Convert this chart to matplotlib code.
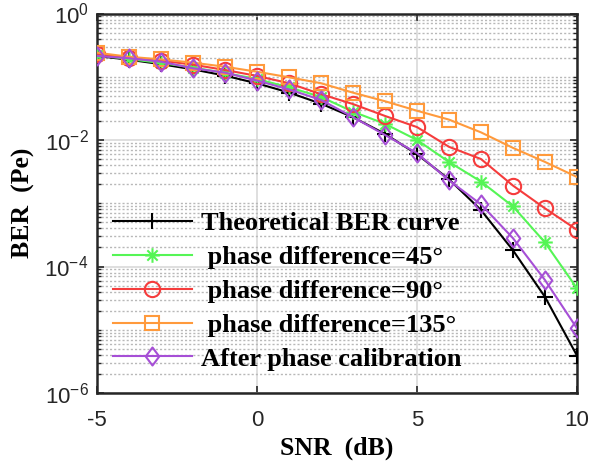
import matplotlib
matplotlib.use("Agg")
import matplotlib.pyplot as plt
from matplotlib.path import Path
from matplotlib.ticker import FixedLocator, FixedFormatter, NullFormatter

plt.rcParams['axes.unicode_minus'] = False
plt.rcParams['mathtext.fontset'] = 'custom'
plt.rcParams['mathtext.rm'] = 'Liberation Sans'
plt.rcParams['mathtext.it'] = 'Liberation Sans'

snr = [-5, -4, -3, -2, -1, 0, 1, 2, 3, 4, 5, 6, 7, 8, 9, 10]
ber_theory = [0.213, 0.186, 0.158, 0.131, 0.104, 0.0786, 0.0563, 0.0375,
              0.0229, 0.0125, 0.00595, 0.00239, 7.8e-4, 1.8e-4, 3.3e-5, 3.9e-6]
ber_45 = [0.22, 0.19, 0.165, 0.14, 0.115, 0.092, 0.068, 0.048,
          0.028, 0.018, 0.0100, 0.0045, 0.0022, 8.9e-4, 2.4e-4, 4.5e-5]
ber_90 = [0.23, 0.20, 0.18, 0.155, 0.128, 0.103, 0.079, 0.053,
          0.037, 0.024, 0.016, 0.0078, 0.0050, 0.0019, 8.3e-4, 3.8e-4]
ber_135 = [0.24, 0.207, 0.188, 0.167, 0.144, 0.12, 0.098, 0.079,
           0.056, 0.041, 0.029, 0.021, 0.0132, 0.0075, 0.0045, 0.0026]
ber_cal = [0.213, 0.196, 0.173, 0.136, 0.116, 0.087, 0.063, 0.043,
           0.023, 0.012, 0.0062, 0.0023, 9.6e-4, 2.8e-4, 6.1e-5, 1.05e-5]

labels = ['Theoretical BER curve', ' phase difference=45°', ' phase difference=90°',
          ' phase difference=135°', 'After phase calibration']
x_ticks = [-5, 0, 5, 10]
y_ticks = [1e-6, 1e-4, 1e-2, 1e0]
y_ticklabels = ['$10^{-6}$', '$10^{-4}$', '$10^{-2}$', '$10^{0}$']

# MATLAB-like asterisk marker (8 spokes)
d = 0.7071
ast_path = Path([(-1, 0), (1, 0), (0, -1), (0, 1), (-d, -d), (d, d), (-d, d), (d, -d)],
                [Path.MOVETO, Path.LINETO] * 4)
# MATLAB-like narrow diamond
dia_path = Path([(0, 1), (0.75, 0), (0, -1), (-0.75, 0), (0, 1)],
                [Path.MOVETO, Path.LINETO, Path.LINETO, Path.LINETO, Path.CLOSEPOLY])

colors = ['#000000', '#55f555', '#f53c3c', '#ff9a3c', '#a64fd6']
markers = ['+', ast_path, 'o', 's', dia_path]
msizes = [11, 10.5, 11, 9.5, 13]

fig = plt.figure(figsize=(5.91, 4.71), dpi=100)
ax = fig.add_axes([97/591, 1-393/471, 480/591, 379.5/471])

series = [ber_theory, ber_45, ber_90, ber_135, ber_cal]
for s, c, m, ms, lab in zip(series, colors, markers, msizes, labels):
    ax.semilogy(snr, s, color=c, marker=m, markersize=ms, lw=1.5,
                markerfacecolor='none', markeredgecolor=c, markeredgewidth=1.5,
                label=lab, zorder=3)

ax.set_xlim(-5, 10)
ax.set_ylim(1e-6, 1)
ax.xaxis.set_major_locator(FixedLocator(x_ticks))
ax.yaxis.set_major_locator(FixedLocator(y_ticks))
ax.yaxis.set_major_formatter(FixedFormatter(y_ticklabels))
minors = []
for e in range(-6, 0):
    for k in range(1, 10):
        v = k * 10.0**e
        if v not in y_ticks:
            minors.append(v)
ax.yaxis.set_minor_locator(FixedLocator(minors))
ax.yaxis.set_minor_formatter(NullFormatter())

ax.grid(True, which='major', axis='both', color='#d9d9d9', lw=1.2, ls='-', zorder=0)
ax.grid(True, which='minor', axis='y', color='#b8b8b8', lw=1.0, ls=(0, (1.5, 1.5)), zorder=0)

ax.tick_params(which='both', direction='in', top=True, right=True, colors='#262626')
ax.tick_params(which='major', length=5, width=1.2, labelsize=16)
ax.tick_params(axis='x', which='major', pad=12)
ax.tick_params(axis='y', which='major', pad=6)
ax.tick_params(which='minor', length=3, width=1.0)
for lab in ax.get_xticklabels() + ax.get_yticklabels():
    lab.set_fontfamily('Liberation Sans')
for sp in ax.spines.values():
    sp.set_linewidth(1.8)
    sp.set_color('#262626')

ax.set_xlabel('SNR  (dB)', fontfamily='Liberation Serif', fontweight='bold', fontsize=18.5, labelpad=4)
ax.set_ylabel('BER  (Pe)', fontfamily='Liberation Serif', fontweight='bold', fontsize=18.5, labelpad=7)

leg = ax.legend(loc='upper left', bbox_to_anchor=(0.033, 0.477), frameon=False,
                prop={'family': 'Liberation Serif', 'weight': 'bold', 'size': 19},
                borderpad=0, borderaxespad=0, handlelength=3.0, handletextpad=0.34,
                labelspacing=0.39)

fig.savefig('out.png', dpi=100)
